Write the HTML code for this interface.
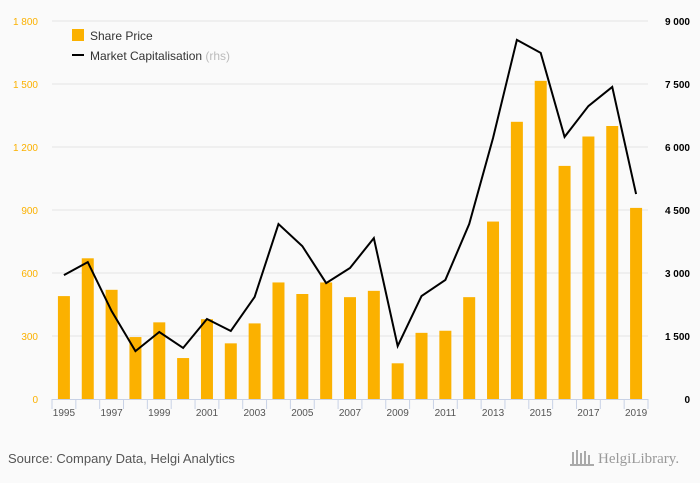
<!DOCTYPE html>
<html><head><meta charset="utf-8"><style>
body{margin:0;background:#fafafa;font-family:"Liberation Sans",sans-serif;}
svg{display:block}
</style></head><body>
<svg id="chart" width="700" height="483" viewBox="0 0 700 483">
<rect width="700" height="483" fill="#fafafa"/>
<g id="grid"></g><g id="bars"></g><g id="line"></g><g id="axes"></g>
<g>
<rect x="72" y="29" width="12" height="12" fill="#fbb100"/>
<text x="90" y="40" font-size="12" fill="#333">Share Price</text>
<rect x="72" y="54" width="12" height="2" fill="#000"/>
<text x="90" y="60" font-size="12" fill="#333">Market Capitalisation <tspan fill="#bbb">(rhs)</tspan></text>
</g>
<text x="8" y="463" font-size="13" fill="#555">Source: Company Data, Helgi Analytics</text>
<text x="598" y="463" font-size="15" fill="#999" font-family="Liberation Serif,serif">HelgiLibrary.</text>
<g fill="#aaa"><rect x="572" y="452" width="2" height="12"/><rect x="576" y="450" width="2" height="14"/><rect x="580" y="453" width="2" height="11"/><rect x="584" y="451" width="2" height="13"/><rect x="588" y="455" width="2" height="9"/><rect x="570" y="464" width="24" height="2"/></g>
</svg>
<script>
const years=[1995,1996,1997,1998,1999,2000,2001,2002,2003,2004,2005,2006,2007,2008,2009,2010,2011,2012,2013,2014,2015,2016,2017,2018,2019];
const sharePrice=[490,670,520,295,365,195,380,265,360,555,500,555,485,515,170,315,325,485,845,1320,1515,1110,1250,1300,910];
const marketCap=[2950,3260,2095,1140,1595,1215,1905,1620,2430,4165,3640,2760,3120,3830,1260,2450,2835,4165,6215,8550,8240,6240,6975,7430,4880];
const leftTicks=[0,300,600,900,1200,1500,1800];
const rightTicks=[0,1500,3000,4500,6000,7500,9000];
const NS="http://www.w3.org/2000/svg";
const X0=52,X1=648,Y0=399,Y1=21;
const band=(X1-X0)/years.length;
const xc=i=>X0+band*(i+0.5);
const yl=v=>Y0-(v/1800)*(Y0-Y1);
const yr=v=>Y0-(v/9000)*(Y0-Y1);
const fmt=v=>String(v).replace(/\B(?=(\d{3})+(?!\d))/g," ");
function mk(tag,attrs,parent,text){const e=document.createElementNS(NS,tag);for(const k in attrs)e.setAttribute(k,attrs[k]);if(text!==undefined)e.textContent=text;document.getElementById(parent).appendChild(e);return e;}
leftTicks.forEach((v,i)=>{
 if(v>0){const g=mk('line',{x1:X0,x2:X1,y1:yl(v),y2:yl(v),stroke:'#e4e4e4'},'grid');
 
 }
 const t=mk('text',{x:38,y:yl(v)+4,'text-anchor':'end','font-size':10,fill:'#fbb100'},'axes',fmt(v));
 
 
});
rightTicks.forEach(v=>{
 const t=mk('text',{x:690,y:yr(v)+4,'text-anchor':'end','font-size':10,fill:'#000','font-weight':'bold'},'axes',fmt(v));
 
 
});
const ax=mk('line',{x1:X0,x2:X1,y1:Y0+0.5,y2:Y0+0.5,stroke:'#c8d2e6'},'axes');


for(let i=0;i<=years.length;i++){
 const tk=mk('line',{x1:X0+band*i,x2:X0+band*i,y1:Y0,y2:Y0+10,stroke:'#c8d2e6'},'axes');
 
 
}
years.forEach((y,i)=>{
 const b=mk('rect',{x:xc(i)-6,y:yl(sharePrice[i]),width:12,height:Y0-yl(sharePrice[i]),fill:'#fbb100'},'bars');
 
 
 if(i%2===0){const t=mk('text',{x:xc(i),y:416,'text-anchor':'middle','font-size':10,fill:'#555'},'axes',y);
 
 }
});
const pts=marketCap.map((v,i)=>xc(i)+','+yr(v)).join(' ');
const pl=mk('polyline',{points:pts,fill:'none',stroke:'#000','stroke-width':2,'stroke-linejoin':'miter'},'line');


</script>
</body></html>
